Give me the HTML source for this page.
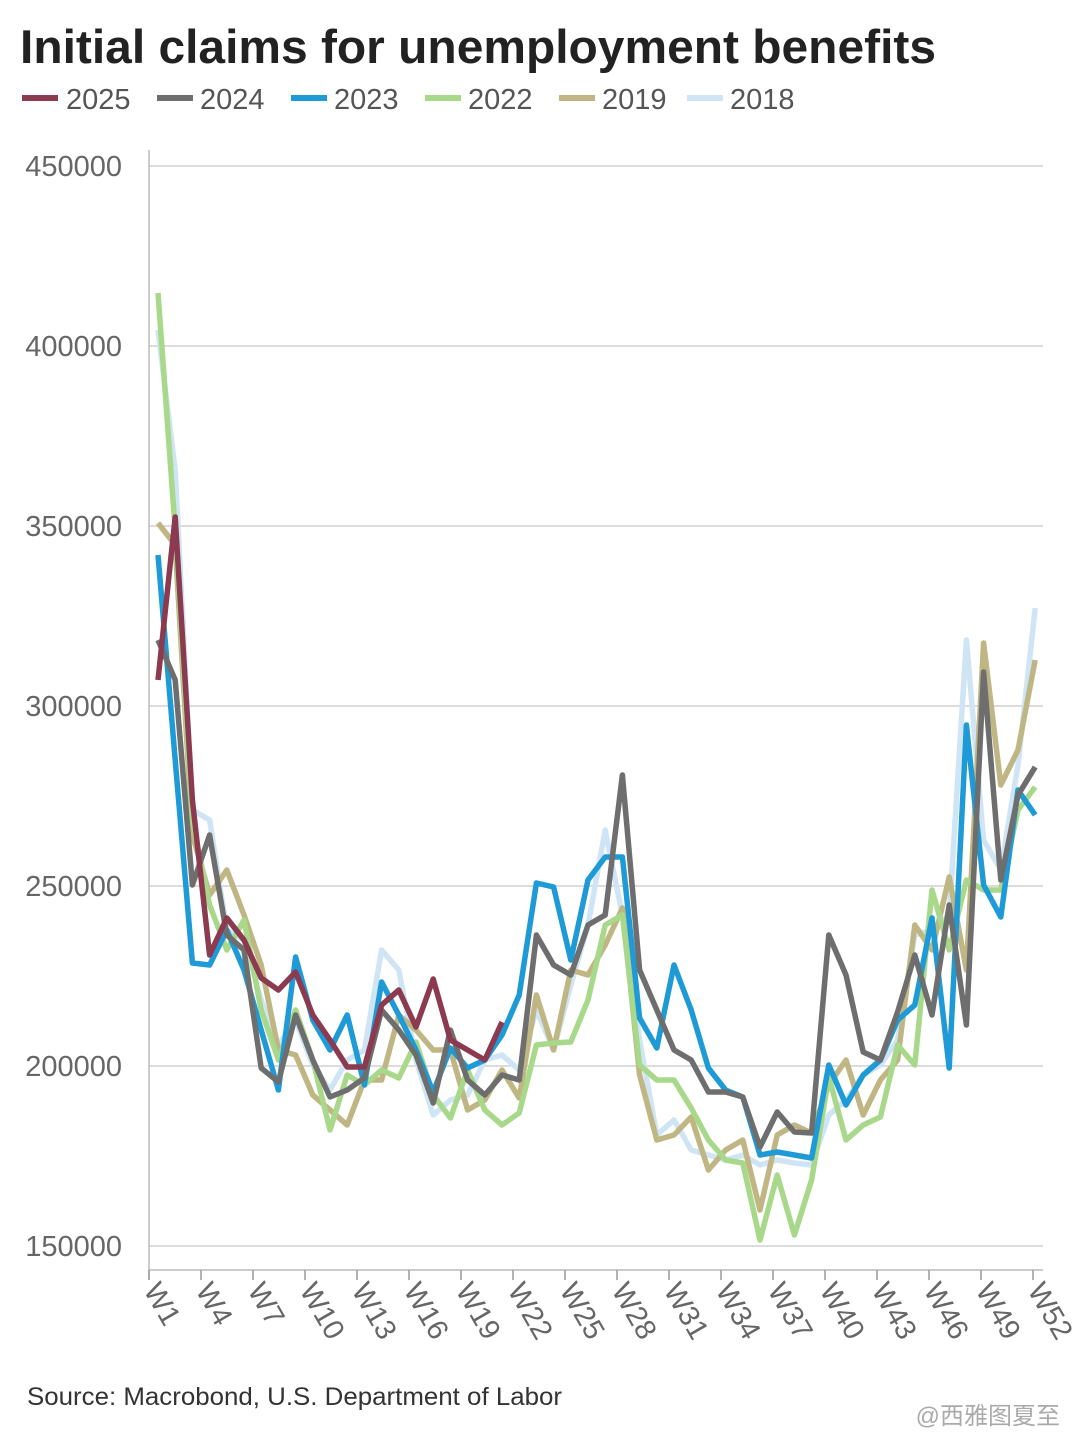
<!DOCTYPE html>
<html><head><meta charset="utf-8"><style>
body{margin:0;background:#fff;width:1080px;height:1440px;overflow:hidden;font-family:"Liberation Sans","Noto Sans CJK SC",sans-serif}
</style></head><body>
<svg id="s" width="1080" height="1440" xmlns="http://www.w3.org/2000/svg" font-family="Liberation Sans, sans-serif">
<text x="20" y="63" font-size="47" font-weight="bold" fill="#222" textLength="916" lengthAdjust="spacingAndGlyphs">Initial claims for unemployment benefits</text>
<g font-size="29" fill="#555">
<line x1="22" y1="98" x2="58" y2="98" stroke="#8b3a4f" stroke-width="6"/><text x="66" y="109">2025</text>
<line x1="157" y1="98" x2="193" y2="98" stroke="#6e6e6e" stroke-width="6"/><text x="200" y="109">2024</text>
<line x1="291" y1="98" x2="327" y2="98" stroke="#1e9ad6" stroke-width="6"/><text x="334" y="109">2023</text>
<line x1="425" y1="98" x2="461" y2="98" stroke="#a8d88a" stroke-width="6"/><text x="468" y="109">2022</text>
<line x1="559" y1="98" x2="595" y2="98" stroke="#bfb683" stroke-width="6"/><text x="602" y="109">2019</text>
<line x1="687" y1="98" x2="723" y2="98" stroke="#cfe5f5" stroke-width="6"/><text x="730" y="109">2018</text>
</g>
<g id="grid" stroke="#c8c8c8" stroke-width="1.2"></g>
<g id="yl" font-size="29" fill="#666" text-anchor="end"></g>
<line x1="149" y1="150" x2="149" y2="1280" stroke="#bbb" stroke-width="1.5"/>
<line x1="149" y1="1270" x2="1043" y2="1270" stroke="#bbb" stroke-width="1.5"/>
<g id="xt" stroke="#999" stroke-width="1.5"></g>
<g id="xl" font-size="29" fill="#666"></g>
<g id="lines" fill="none" stroke-width="5.5" stroke-linejoin="round"></g>
<text x="27" y="1405" font-size="25" fill="#333" textLength="535" lengthAdjust="spacingAndGlyphs">Source: Macrobond, U.S. Department of Labor</text>
<text x="1060" y="1424" font-size="24" fill="#aaa" text-anchor="end" font-family="Liberation Sans, Noto Sans CJK SC, sans-serif">@西雅图夏至</text>
</svg>
<script>
var NS="http://www.w3.org/2000/svg";
function el(p,t,a,txt){var e=document.createElementNS(NS,t);for(var k in a)e.setAttribute(k,a[k]);if(txt)e.textContent=txt;document.getElementById(p).appendChild(e);}
var labs=["450000","400000","350000","300000","250000","200000","150000"];
for(var i=0;i<7;i++){var y=166+180*i;el("grid","line",{x1:149,y1:y,x2:1043,y2:y});el("yl","text",{x:122,y:y+10},labs[i]);}
for(var w=1;w<=52;w+=3){var x=149+(w-1)/3*52;el("xt","line",{x1:x,y1:1270,x2:x,y2:1280});
el("xl","text",{x:0,y:0,transform:"translate("+(x-6)+",1290) rotate(60)"},"W"+w);}
var S=[
["#cfe5f5",[330,470,810,820,930,940,1000,1045,1020,1065,1090,1060,1050,950,970,1060,1115,1100,1095,1060,1055,1070,1010,1050,985,925,830,915,1040,1135,1120,1150,1155,1160,1155,1165,1160,1163,1165,1115,1100,1075,1065,1040,935,930,915,640,840,870,765,608]],
["#bfb683",[523,545,835,895,870,915,965,1050,1055,1095,1110,1125,1080,1080,1015,1030,1050,1050,1110,1100,1070,1098,995,1050,970,975,945,908,1075,1140,1135,1117,1170,1150,1140,1210,1135,1125,1133,1085,1060,1115,1080,1060,925,950,877,970,643,785,750,660]],
["#a8d88a",[293,530,820,905,950,920,1010,1060,1010,1060,1130,1075,1085,1070,1078,1042,1095,1118,1070,1110,1125,1113,1045,1043,1042,1000,925,915,1065,1080,1080,1108,1140,1160,1163,1240,1175,1235,1180,1077,1140,1125,1117,1045,1065,890,950,880,890,890,810,787]],
["#1e9ad6",[555,760,963,965,930,970,1030,1090,957,1020,1050,1015,1085,982,1015,1050,1092,1048,1068,1060,1035,995,883,887,960,880,857,857,1018,1048,965,1010,1068,1090,1097,1155,1152,1155,1158,1065,1105,1075,1060,1020,1005,918,1068,725,885,917,790,815]],
["#6e6e6e",[640,680,885,835,935,950,1068,1082,1015,1060,1097,1090,1078,1010,1030,1055,1103,1030,1080,1095,1075,1080,935,965,975,925,915,775,970,1010,1050,1060,1092,1092,1097,1147,1112,1132,1133,935,975,1052,1060,1012,955,1015,905,1025,672,880,795,767]],
["#8b3a4f",[680,517,800,955,918,940,978,990,972,1015,1040,1067,1067,1005,990,1027,979,1040,1050,1060,1022]]
];
S.forEach(function(s){var p=s[1].map(function(y,i){return (158+17.2*i).toFixed(1)+","+y;}).join(" ");el("lines","polyline",{points:p,stroke:s[0]});});
</script>
</body></html>
